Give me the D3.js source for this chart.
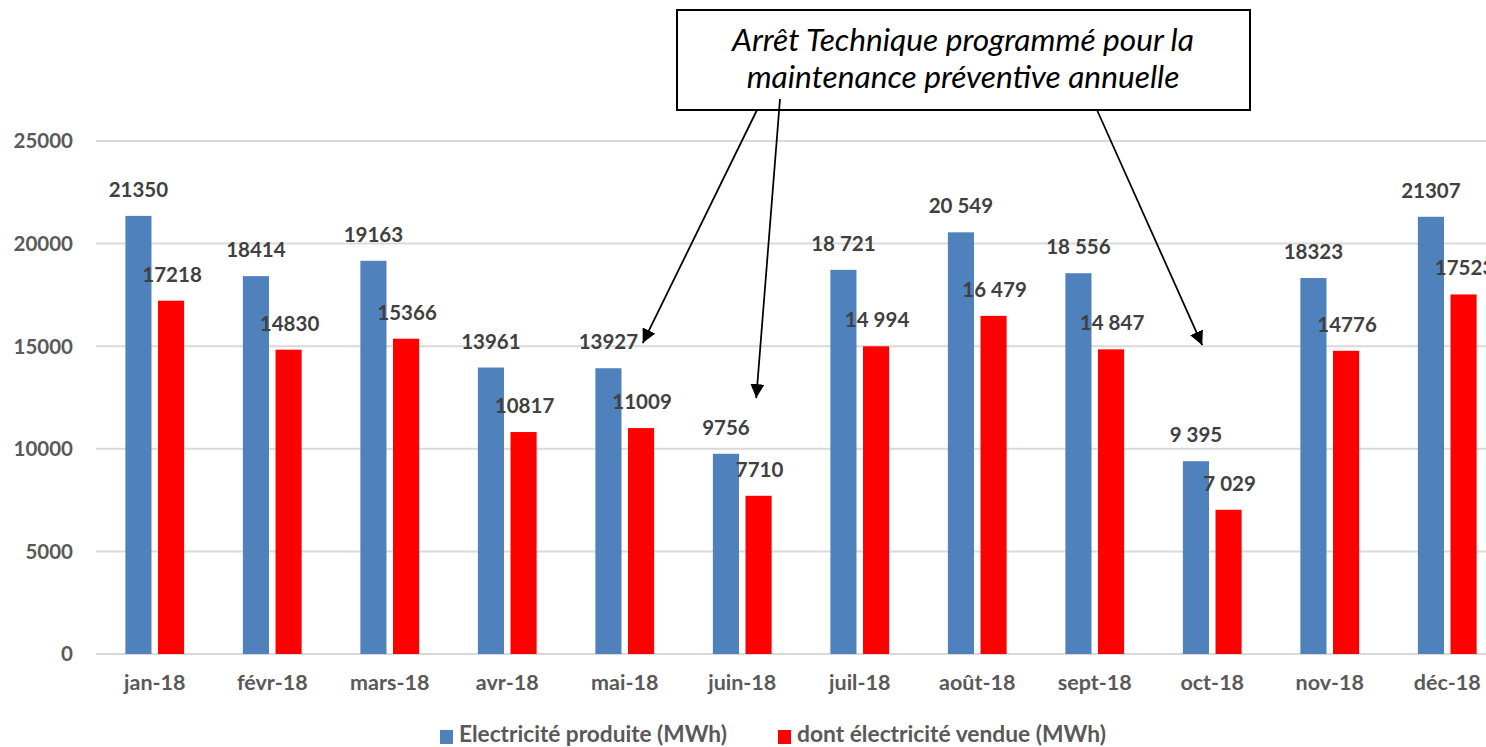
<!DOCTYPE html>
<html>
<head>
<meta charset="utf-8">
<script src="https://cdn.jsdelivr.net/npm/d3@7"></script>
<style>
  html, body { margin: 0; padding: 0; background: #fff; overflow: hidden; }
  text { font-family: Lato, "Open Sans", sans-serif; }
</style>
</head>
<body>
<script>
// data
const months = ["jan-18", "févr-18", "mars-18", "avr-18", "mai-18", "juin-18",
                "juil-18", "août-18", "sept-18", "oct-18", "nov-18", "déc-18"];
const produite = [21350, 18414, 19163, 13961, 13927, 9756, 18721, 20549, 18556, 9395, 18323, 21307];
const vendue = [17218, 14830, 15366, 10817, 11009, 7710, 14994, 16479, 14847, 7029, 14776, 17523];
// labels as printed (some use a space as thousands separator)
const produiteLabels = ["21350", "18414", "19163", "13961", "13927", "9756", "18 721", "20 549", "18 556", "9 395", "18323", "21307"];
const vendueLabels = ["17218", "14830", "15366", "10817", "11009", "7710", "14 994", "16 479", "14 847", "7 029", "14776", "17523"];
const yTicks = [0, 5000, 10000, 15000, 20000, 25000];
const seriesNames = ["Electricité produite (MWh)", "dont électricité vendue (MWh)"];
const noteLines = ["Arrêt Technique programmé pour la", "maintenance préventive annuelle"];
// arrows of the annotation: target month, x shift from its centre, target value
const arrowTargets = [
  { month: "mai-18", dx: 18, value: 15150, from: [757, 110] },
  { month: "juin-18", dx: 14, value: 12470, from: [780, 99] },
  { month: "oct-18", dx: -10, value: 15050, from: [1097, 110] }
];

const width = 1486, height = 747;
const blue = "#4f81bd", red = "#ff0000";
const textCol = "#595959", labelCol = "#404040";

const svg = d3.select("body").append("svg")
  .attr("width", width)
  .attr("height", height);

// shrink or grow a text's font so it spans the wanted width
function fitWidth(sel, target) {
  sel.each(function () {
    const fs = parseFloat(this.getAttribute("font-size"));
    const w = this.getComputedTextLength();
    if (w > 0) this.setAttribute("font-size", (fs * target / w).toFixed(2));
  });
}

const x = d3.scaleBand()
  .domain(months)
  .range([96, 1506])
  .paddingInner(0.5)
  .paddingOuter(0.25);

const x1 = d3.scaleBand()
  .domain([0, 1])
  .range([0, x.bandwidth()])
  .paddingInner(0.2);

const y = d3.scaleLinear()
  .domain([0, 25000])
  .range([654, 141]);

// gridlines
svg.append("g")
  .selectAll("line")
  .data(yTicks)
  .join("line")
  .attr("x1", 96)
  .attr("x2", width)
  .attr("y1", d => y(d))
  .attr("y2", d => y(d))
  .attr("stroke", "#d9d9d9")
  .attr("stroke-width", 2);

// y tick labels
svg.append("g")
  .selectAll("text")
  .data(yTicks)
  .join("text")
  .attr("x", 73)
  .attr("y", d => y(d))
  .attr("dy", "0.36em")
  .attr("text-anchor", "end")
  .attr("font-size", 20.5)
  .attr("font-weight", "bold")
  .attr("fill", textCol)
  .text(d => d);

// x labels
svg.append("g")
  .selectAll("text")
  .data(months)
  .join("text")
  .attr("x", d => x(d) + x.bandwidth() / 2)
  .attr("y", 690)
  .attr("text-anchor", "middle")
  .attr("font-size", 21.5)
  .attr("font-weight", "bold")
  .attr("fill", textCol)
  .text(d => d);

const series = [
  { values: produite, labels: produiteLabels, color: blue },
  { values: vendue, labels: vendueLabels, color: red }
];

series.forEach((s, i) => {
  const g = svg.append("g");
  g.selectAll("rect")
    .data(s.values)
    .join("rect")
    .attr("x", (d, j) => x(months[j]) + x1(i))
    .attr("y", d => y(d))
    .attr("width", x1.bandwidth())
    .attr("height", d => y(0) - y(d))
    .attr("fill", s.color);

  g.selectAll("text")
    .data(s.values)
    .join("text")
    .attr("x", (d, j) => x(months[j]) + x1(i) + x1.bandwidth() / 2 + (i === 1 ? 1 : 0))
    .attr("y", d => y(d) - 19)
    .attr("text-anchor", "middle")
    .attr("font-size", 20.5)
    .attr("font-weight", "bold")
    .attr("fill", labelCol)
    .text((d, j) => s.labels[j]);
});

// legend
const legend = svg.append("g");
const legendX = [440, 778];
const legendW = [268, 309];
seriesNames.forEach((name, i) => {
  legend.append("rect")
    .attr("x", legendX[i])
    .attr("y", 730)
    .attr("width", 13)
    .attr("height", 14)
    .attr("fill", series[i].color);
  legend.append("text")
    .attr("x", legendX[i] + 19)
    .attr("y", 742)
    .attr("font-size", 22)
    .attr("font-weight", "bold")
    .attr("fill", textCol)
    .text(name)
    .call(fitWidth, legendW[i]);
});

// annotation
const defs = svg.append("defs");
defs.append("marker")
  .attr("id", "arrow")
  .attr("viewBox", "0 0 10 10")
  .attr("refX", 10)
  .attr("refY", 5)
  .attr("markerWidth", 8)
  .attr("markerHeight", 8)
  .attr("markerUnits", "strokeWidth")
  .attr("orient", "auto")
  .append("path")
  .attr("d", "M0,0 L10,5 L0,10 z")
  .attr("fill", "#000");

const note = svg.append("g");
note.append("rect")
  .attr("x", 677)
  .attr("y", 10)
  .attr("width", 573)
  .attr("height", 100)
  .attr("fill", "#fff")
  .attr("stroke", "#000")
  .attr("stroke-width", 2);

const noteText = note.selectAll("text")
  .data(noteLines)
  .join("text")
  .attr("x", 963)
  .attr("y", (d, i) => 51 + i * 37)
  .attr("text-anchor", "middle")
  .attr("font-size", 30)
  .attr("font-style", "italic")
  .attr("fill", "#000")
  .text(d => d);
// both lines share the size that makes the first one span the reference width
noteText.filter((d, i) => i === 0).call(fitWidth, 462);
noteText.attr("font-size", noteText.node().getAttribute("font-size"));

note.selectAll("line")
  .data(arrowTargets)
  .join("line")
  .attr("x1", d => d.from[0])
  .attr("y1", d => d.from[1])
  .attr("x2", d => x(d.month) + x.bandwidth() / 2 + d.dx)
  .attr("y2", d => y(d.value))
  .attr("stroke", "#000")
  .attr("stroke-width", 1.75)
  .attr("marker-end", "url(#arrow)");
</script>
</body>
</html>
